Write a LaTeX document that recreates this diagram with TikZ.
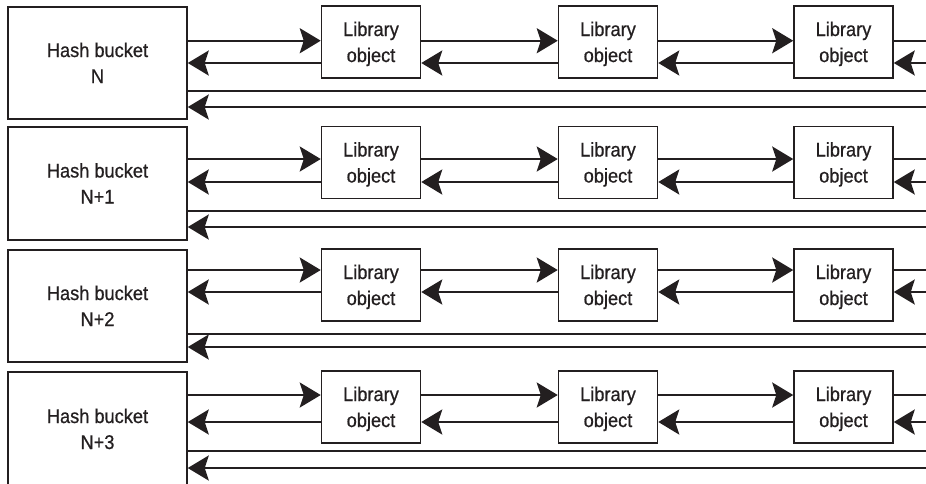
\documentclass[tikz,border=0pt]{standalone}
\usepackage{fontspec}
\setmainfont{Liberation Sans}[FakeStretch=0.92,FakeBold=0.7]
\usetikzlibrary{arrows.meta}
\definecolor{ink}{HTML}{231F20}
\newcommand{\twolines}[2]{\begin{tabular}{@{}c@{}}\rule{0pt}{21.8pt}#1\\#2\end{tabular}}
\tikzset{
  boxtext/.style={draw=ink, line width=1.5pt, inner sep=0pt, text=ink, font=\fontsize{19.8}{26}\selectfont},
  bucketbox/.style={boxtext, minimum width=179pt, minimum height=112pt},
  libbox/.style={boxtext, minimum width=99pt, minimum height=72pt},
  link/.style={draw=ink, line width=2.3pt},
  tip/.style={link, -{Stealth[length=21pt,width=25pt,inset=4pt]}}
}
\begin{document}
\begin{tikzpicture}[x=1pt,y=-1pt]
\useasboundingbox (0,0) rectangle (926,483);
\foreach \r/\by/\bh/\ly/\fy/\ky/\ay/\cy/\lab in {
  0/63/112/42/40.7/63/91/107/N,
  1/183.5/113/162.5/159/182/211/227/N+1,
  2/306/112/285/270/292/334/347/N+2,
  3/429/114/407/395/422/451/468/N+3}{
  \node[bucketbox, minimum height=\bh pt] (b\r) at (97.5,\by) {\twolines{Hash bucket}{\lab}};
  \node[libbox] (l\r a) at (371,\ly) {\twolines{Library}{object}};
  \node[libbox] (l\r b) at (608,\ly) {\twolines{Library}{object}};
  \node[libbox] (l\r c) at (843.5,\ly) {\twolines{Library}{object}};
  \coordinate (e\r f) at (940,\fy);
  \coordinate (e\r k) at (940,\ky);
  \coordinate (e\r a) at (940,\ay);
  \coordinate (e\r c) at (940,\cy);
  % forward links
  \draw[tip] (b\r.east |- e\r f) -- (l\r a.west |- e\r f);
  \draw[tip] (l\r a.east |- e\r f) -- (l\r b.west |- e\r f);
  \draw[tip] (l\r b.east |- e\r f) -- (l\r c.west |- e\r f);
  \draw[link] (l\r c.east |- e\r f) -- (e\r f);
  % backward links
  \draw[tip] (l\r a.west |- e\r k) -- (b\r.east |- e\r k);
  \draw[tip] (l\r b.west |- e\r k) -- (l\r a.east |- e\r k);
  \draw[tip] (l\r c.west |- e\r k) -- (l\r b.east |- e\r k);
  \draw[tip] (e\r k) -- (l\r c.east |- e\r k);
  % list ends
  \draw[link] (b\r.east |- e\r a) -- (e\r a);
  \draw[tip] (e\r c) -- (b\r.east |- e\r c);
}
\end{tikzpicture}
\end{document}
